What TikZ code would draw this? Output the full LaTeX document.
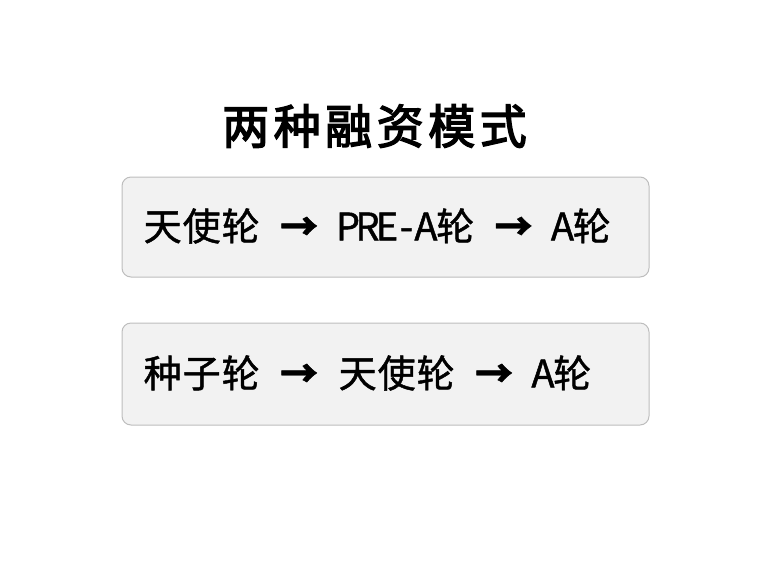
\documentclass[tikz,border=0pt]{standalone}
\usepackage{fontspec}
\setmainfont{Noto Sans CJK SC}
\newfontfamily\rowfont[FakeBold=1.2]{Noto Sans CJK SC}
\newfontfamily\titlefont[FakeBold=3]{Noto Sans CJK SC}
\definecolor{boxfill}{HTML}{F2F2F2}
\definecolor{boxline}{HTML}{BDBDBD}
\newcommand{\cjc}[1]{\makebox[39pt][c]{#1}}
\newcommand{\hwc}[1]{\makebox[19.5pt][c]{#1}}
\newcommand{\arr}{\makebox[39pt][c]{\bfseries →}}
\newcommand{\tc}[1]{\makebox[51.5pt][c]{#1}}
\begin{document}
\begin{tikzpicture}[x=1pt,y=-1pt,
  roundbox/.style={draw=boxline, fill=boxfill, line width=1pt, rounded corners=9pt},
  titletext/.style={font=\fontsize{47}{50}\titlefont, inner sep=0pt},
  rowtext/.style={font=\fontsize{38}{40}\rowfont, inner sep=0pt, anchor=west}]
\useasboundingbox (0,0) rectangle (759,560);
\node[titletext] (title) at (374.5,126) {\tc{两}\tc{种}\tc{融}\tc{资}\tc{模}\tc{式}};
\draw[roundbox] (122,177) rectangle (649,277);
\draw[roundbox] (122,323) rectangle (649,425);
\node[rowtext] (row1) at (143,226) {\cjc{天}\cjc{使}\cjc{轮}\hwc{ }\arr\hwc{ }\hwc{P}\hwc{R}\hwc{E}\hwc{-}\hwc{A}\cjc{轮}\hwc{ }\arr\hwc{ }\hwc{A}\cjc{轮}};
\node[rowtext] (row2) at (143,373) {\cjc{种}\cjc{子}\cjc{轮}\hwc{ }\arr\hwc{ }\cjc{天}\cjc{使}\cjc{轮}\hwc{ }\arr\hwc{ }\hwc{A}\cjc{轮}};
\end{tikzpicture}
\end{document}
